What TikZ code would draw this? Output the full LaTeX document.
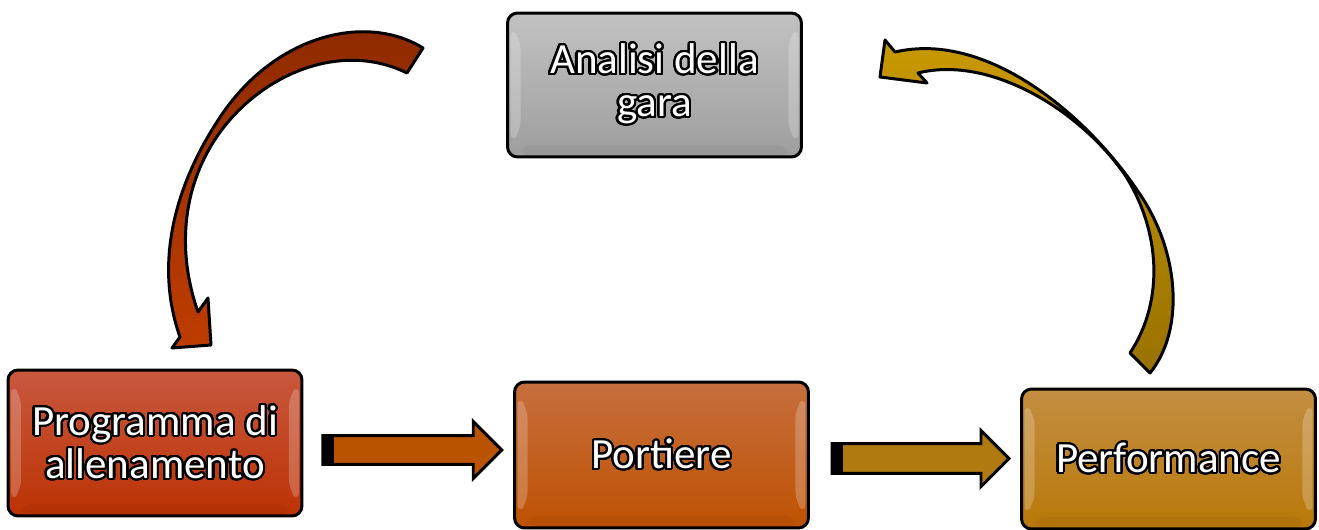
\documentclass[tikz,border=0pt]{standalone}
\usepackage{fontspec}
\setmainfont{Carlito}
\usepackage{xcolor}
\usepackage{tikz}
\usepackage{contour}
\usetikzlibrary{shapes.arrows, calc}
\contourlength{1.2pt}
\contournumber{32}
\newcommand{\outl}[1]{\contour{black}{#1}}
\definecolor{progtop}{RGB}{200,88,62}
\definecolor{progbot}{RGB}{188,50,4}
\definecolor{anatop}{RGB}{194,194,194}
\definecolor{anabot}{RGB}{158,158,158}
\definecolor{porttop}{RGB}{198,110,62}
\definecolor{portbot}{RGB}{190,82,2}
\definecolor{perftop}{RGB}{196,142,66}
\definecolor{perfbot}{RGB}{184,120,8}
\definecolor{arrowA}{RGB}{185,83,0}
\definecolor{arrowB}{RGB}{176,122,16}
\definecolor{redtop}{RGB}{140,42,0}
\definecolor{redbot}{RGB}{190,60,0}
\definecolor{goldtop}{RGB}{202,154,0}
\definecolor{goldbot}{RGB}{152,113,0}
\tikzset{
  stepbox/.style={rectangle, rounded corners=0.2cm, draw=black, line width=1.7pt, minimum width=5.88cm, minimum height=2.92cm, align=center, text=white, font=\fontsize{24.5}{24.5}\selectfont,
    path picture={
      \fill[white, opacity=.22] ($(path picture bounding box.north west)+(3,14)$) -- ++(10,12) -- ($(path picture bounding box.south west)+(13,-26)$) -- ++(-10,12) -- cycle;
      \fill[white, opacity=.22] ($(path picture bounding box.north east)+(-3,14)$) -- ++(-10,12) -- ($(path picture bounding box.south east)+(-13,-26)$) -- ++(10,12) -- cycle;
      \fill[black, opacity=.04] ($(path picture bounding box.south west)+(13,-12)$) rectangle ($(path picture bounding box.south east)+(-13,0)$);
    }},
  blockarrow/.style={single arrow, draw=black, line width=1.7pt, inner xsep=0pt, inner ysep=0.26cm, single arrow head extend=0.28cm, single arrow head indent=0pt,
    path picture={\fill[black] (path picture bounding box.south west) rectangle ($(path picture bounding box.north west)+(11,0)$);}},
  bentarrow/.style={draw=black, line width=1.7pt, line join=round},
}
\begin{document}
\begin{tikzpicture}[x=0.02cm, y=-0.02cm]
\useasboundingbox (0,0) rectangle (1319,530);

\node[stepbox, top color=progtop, bottom color=progbot] (prog) at (155,443) {\outl{Programma di}\\\outl{allenamento}};
\node[stepbox, top color=anatop, bottom color=anabot, minimum height=2.88cm] (ana) at (654.5,85) {\outl{Analisi della}\\\outl{gara}};
\node[stepbox, top color=porttop, bottom color=portbot] (port) at (661.5,455) {\outl{Portiere}};
\node[stepbox, top color=perftop, bottom color=perfbot, minimum height=2.8cm] (perf) at (1168.5,459) {\outl{Performance}};

\node[blockarrow, fill=arrowA, minimum height=3.58cm, minimum width=1.08cm] (go1) at (405,450) {};
\node[blockarrow, fill=arrowB, minimum height=3.54cm, minimum width=1.06cm, inner ysep=0.27cm, single arrow head extend=0.26cm] (go2) at (913,458.5) {};

\path[bentarrow, top color=redtop, bottom color=redbot]
  (423,48) .. controls (365,12) and (270,35) .. (215,125)
  .. controls (180,180) and (152,258) .. (180,337)
  -- (172,348) -- (211,345) -- (208,298) -- (198,312)
  .. controls (178,255) and (180,190) .. (218,135)
  .. controls (260,75) and (340,40) .. (407,73) -- cycle;

\path[bentarrow, top color=goldtop, bottom color=goldbot]
  (895,52) -- (885,40) -- (880,77) -- (927,83) -- (918,73)
  .. controls (990,55) and (1080,110) .. (1125,175)
  .. controls (1160,230) and (1165,300) .. (1130,353)
  -- (1150,373)
  .. controls (1185,330) and (1180,250) .. (1137,190)
  .. controls (1090,120) and (990,30) .. (895,52) -- cycle;
\end{tikzpicture}
\end{document}
